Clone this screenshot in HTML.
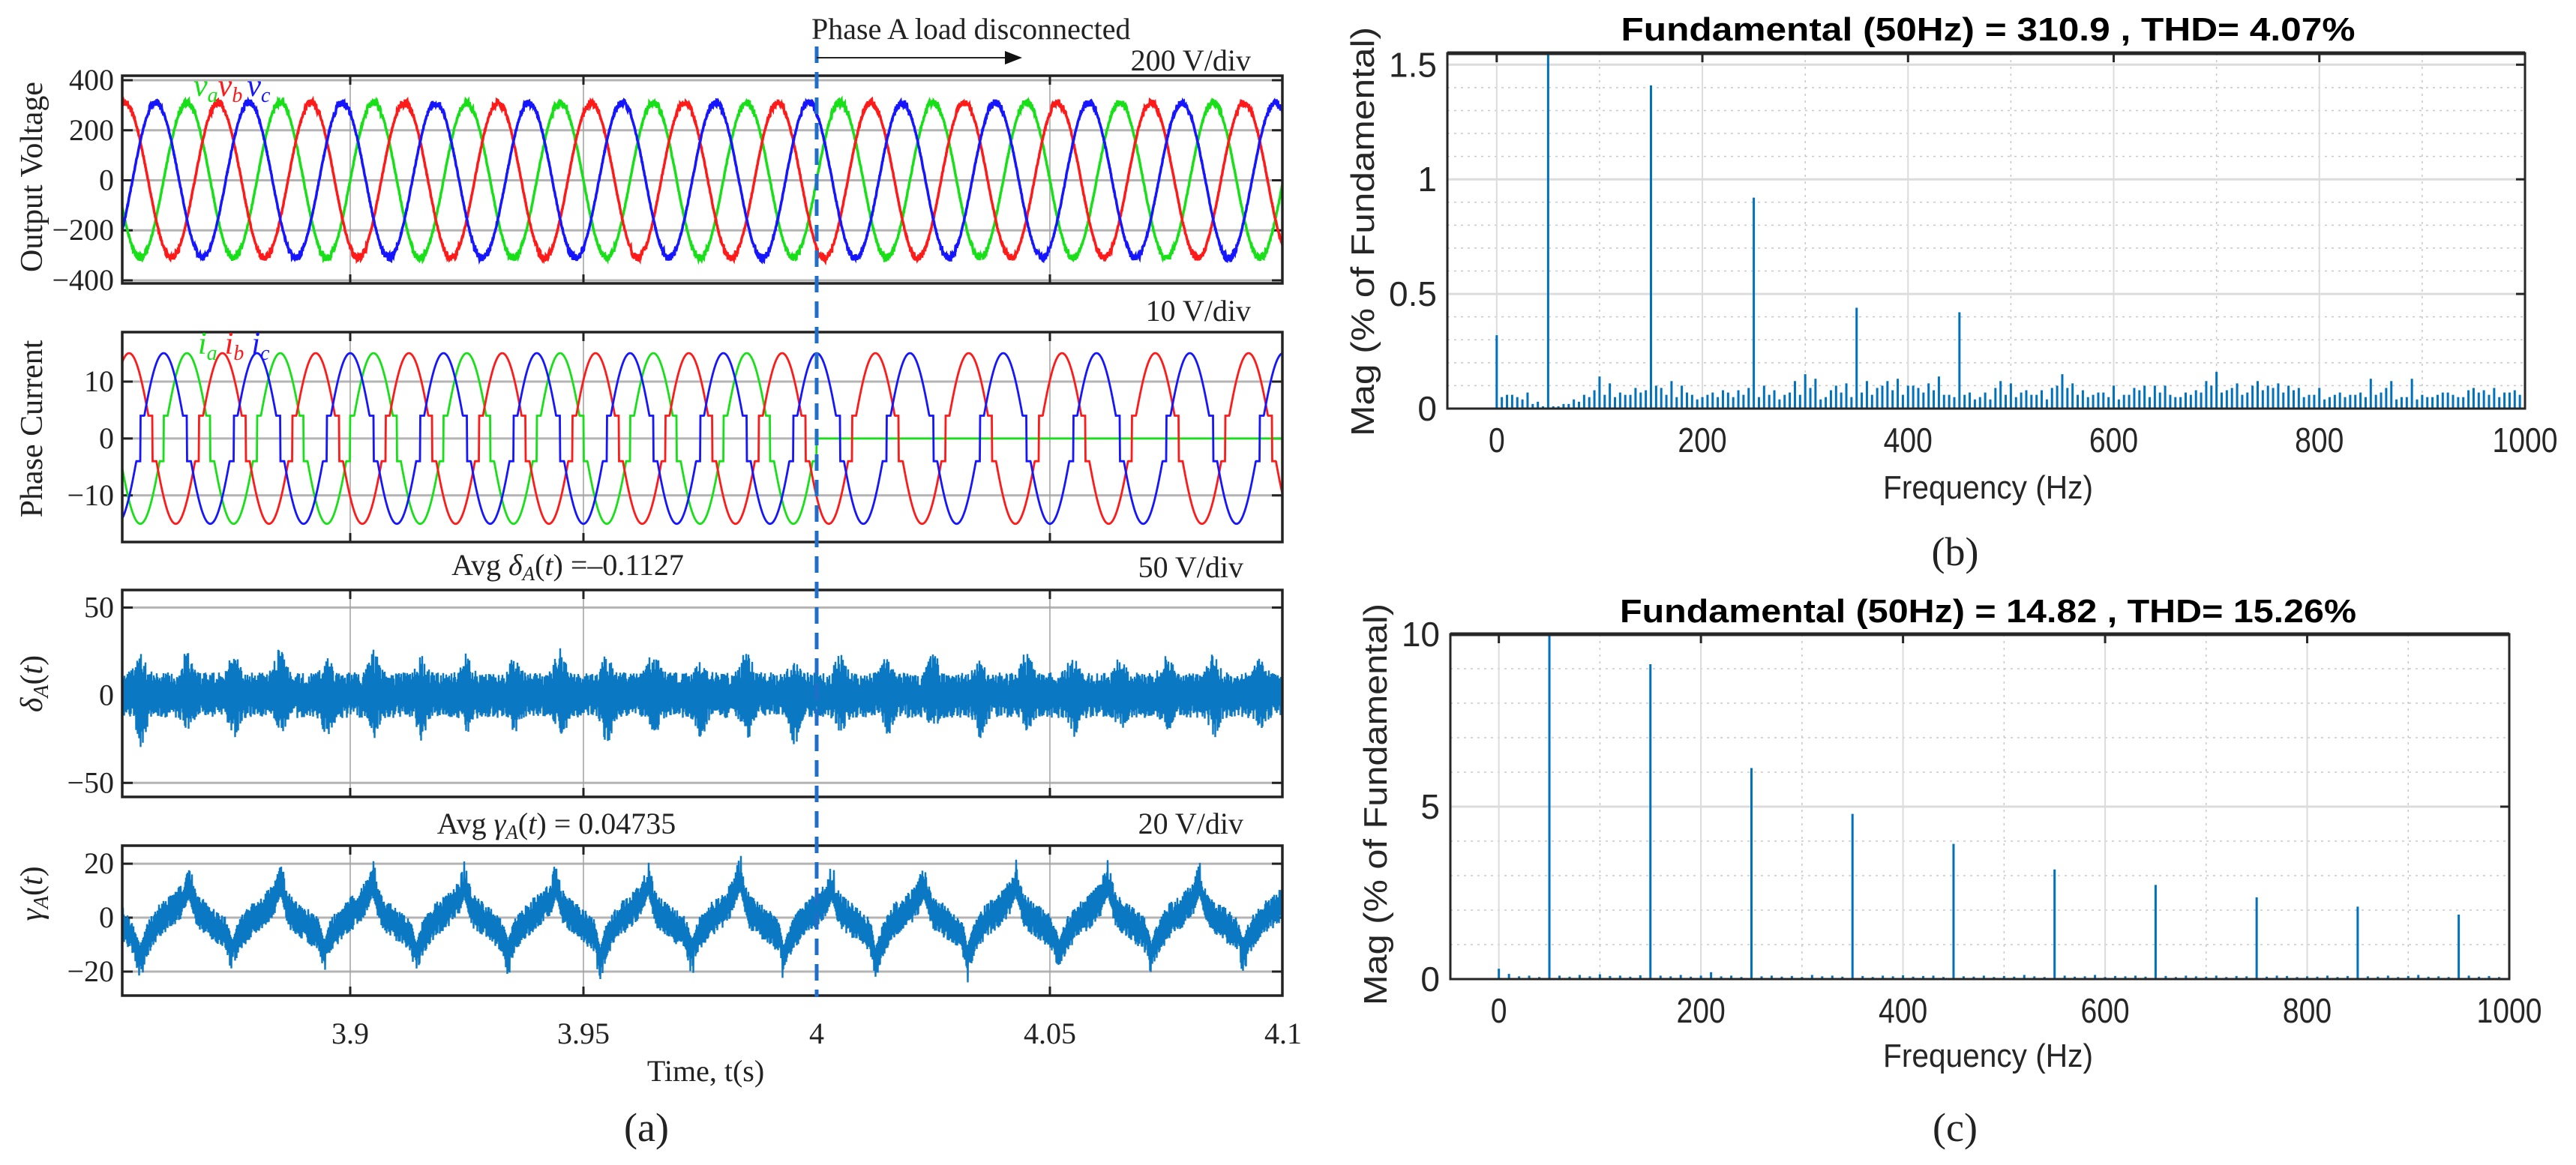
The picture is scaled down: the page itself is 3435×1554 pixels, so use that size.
<!DOCTYPE html>
<html><head><meta charset="utf-8"><style>
html,body{margin:0;padding:0;background:#fff;}
svg{display:block;}
</style></head><body>
<svg id="fig" xmlns="http://www.w3.org/2000/svg" width="3435" height="1554" viewBox="0 0 3435 1554">
<rect x="0" y="0" width="3435" height="1554" fill="#fff"/>
</svg>
<script>
// ---------- data ----------
const timeTicks = [3.9, 3.95, 4, 4.05, 4.1];
const timeTickLabels = ["3.9", "3.95", "4", "4.05", "4.1"];
const vAmp = [310, 310, 310];              // va, vb, vc amplitudes
const vPeakT = [3.985, 3.99167, 3.99833];  // va, vb, vc peak times
const iAmp = [15, 15, 15];
const iPeakT = [3.985, 3.9926, 4.0];
const disconnectT = 4.0;
const deltaSpikeT = [3.855,3.865,3.875,3.885,3.895,3.905,3.915,3.925,3.935,3.945,3.955,3.965,3.975,3.985,3.995,4.005,4.015,4.025,4.035,4.045,4.055,4.065,4.075,4.085,4.095];
const deltaUp = [25,27,25,28,22,27,24,25,22,28,25,27,22,30,20,24,22,25,20,26,24,22,25,24,22];
const deltaDn = [-30,-20,-25,-22,-27,-25,-28,-23,-22,-28,-30,-25,-25,-25,-30,-22,-24,-20,-25,-22,-24,-20,-22,-25,-20];
const gammaPeakT = [3.8654,3.8851,3.9048,3.9245,3.9442,3.9639,3.9836,4.0033,4.023,4.0427,4.0624,4.0821,4.1018];
const gammaPeaks = [17,18,18,17,17,18,20,16,17,18,18,18,17];
const gammaTroughT = [3.855,3.8747,3.8944,3.9141,3.9338,3.9535,3.9732,3.9929,4.0126,4.0323,4.052,4.0717,4.0914];
const gammaTroughs = [-20,-18,-18,-19,-18,-21,-18,-20,-21,-20,-18,-19,-18];
const specB = [0.32,0.06,0.05,0.07,0.03,100,0.01,0.02,0.03,0.05,0.14,0.11,0.07,0.06,0.07,1.41,0.09,0.12,0.1,0.06,0.05,0.07,0.08,0.05,0.06,0.92,0.1,0.08,0.06,0.12,0.15,0.13,0.05,0.1,0.11,0.44,0.12,0.09,0.12,0.13,0.1,0.09,0.11,0.14,0.06,0.42,0.07,0.05,0.04,0.12,0.11,0.07,0.06,0.08,0.09,0.15,0.11,0.08,0.06,0.07,0.1,0.06,0.09,0.1,0.1,0.1,0.05,0.07,0.08,0.12,0.16,0.08,0.11,0.07,0.12,0.1,0.11,0.1,0.09,0.06,0.09,0.05,0.07,0.06,0.07,0.13,0.07,0.12,0.05,0.13,0.06,0.05,0.07,0.06,0.05,0.09,0.08,0.09,0.07,0.08,0.11];
const specBHalf = [0.05,0.06,0.04,0.02,0.01,0.01,0.02,0.04,0.06,0.08,0.06,0.05,0.06,0.09,0.08,0.1,0.06,0.05,0.07,0.04,0.06,0.05,0.07,0.08,0.09,0.05,0.06,0.04,0.07,0.06,0.09,0.04,0.08,0.07,0.05,0.07,0.06,0.1,0.08,0.06,0.1,0.07,0.08,0.06,0.05,0.06,0.04,0.07,0.09,0.06,0.05,0.08,0.06,0.04,0.1,0.09,0.06,0.05,0.07,0.05,0.04,0.06,0.08,0.05,0.07,0.06,0.05,0.06,0.07,0.1,0.07,0.09,0.06,0.1,0.08,0.09,0.07,0.08,0.05,0.06,0.04,0.06,0.05,0.06,0.05,0.06,0.09,0.04,0.05,0.04,0.05,0.06,0.07,0.05,0.08,0.07,0.06,0.05,0.07,0.06];
const specC = [0.3,0.15,0.08,0.1,0.06,100,0.1,0.07,0.12,0.08,0.14,0.09,0.1,0.07,0.11,9.13,0.1,0.08,0.12,0.07,0.1,0.2,0.08,0.1,0.06,6.12,0.08,0.1,0.07,0.09,0.06,0.12,0.08,0.1,0.07,4.79,0.09,0.06,0.1,0.08,0.11,0.07,0.09,0.1,0.06,3.92,0.08,0.07,0.1,0.06,0.09,0.07,0.12,0.08,0.06,3.18,0.1,0.07,0.08,0.12,0.06,0.09,0.08,0.1,0.07,2.73,0.09,0.06,0.1,0.08,0.07,0.1,0.06,0.09,0.08,2.37,0.07,0.1,0.09,0.06,0.08,0.07,0.1,0.06,0.09,2.1,0.08,0.07,0.1,0.06,0.09,0.12,0.07,0.08,0.06,1.87,0.1,0.07,0.09,0.06,0.12];
const specTicks = [0,200,400,600,800,1000];
const bYTicks = [0,0.5,1,1.5];
const cYTicks = [0,5,10];

// ---------- helpers ----------
const NS = "http://www.w3.org/2000/svg";
const svg = document.getElementById('fig');
function mk(tag, attrs, name, parent) {
  const el = document.createElementNS(NS, tag);
  for (const k in attrs) el.setAttribute(k, attrs[k]);
  
  
  (parent || svg).appendChild(el);
  return el;
}
function txt(x, y, s, attrs, name) {
  const el = mk('text', Object.assign({x: x, y: y}, attrs), name);
  el.textContent = s;
  return el;
}
function hash(i) { const v = Math.sin(i * 12.9898 + 78.233) * 43758.5453; return v - Math.floor(v); }

const SERIF = '"Liberation Serif", serif';
const SANS = '"Liberation Sans", Arial, sans-serif';

const TX0 = 163, TX1 = 1710;
function X(t) { return 467 + (t - 3.9) * 6220; }
const T0 = 3.9 + (TX0 - 467) / 6220;

function timePanel(cfg) {
  const Y = v => cfg.y1 - (v - cfg.ymin) / (cfg.ymax - cfg.ymin) * (cfg.y1 - cfg.y0);
  cfg.Y = Y;
  cfg.yticks.forEach(v => {
    mk('line', {x1: TX0, x2: TX1, y1: Y(v), y2: Y(v), stroke: '#b4b4b4', 'stroke-width': 3}, cfg.name + '-hgrid');
    mk('line', {x1: TX0, x2: TX0 + 14, y1: Y(v), y2: Y(v), stroke: '#222', 'stroke-width': 3}, cfg.name + '-ytick');
    mk('line', {x1: TX1 - 14, x2: TX1, y1: Y(v), y2: Y(v), stroke: '#222', 'stroke-width': 3}, cfg.name + '-ytick');
    txt(152, Y(v) + 13, String(v).replace('-', '\u2212'), {'font-family': SERIF, 'font-size': 40, 'text-anchor': 'end', fill: '#222'}, cfg.name + '-ytick-label');
  });
  [3.9, 3.95, 4.05].forEach(t => {
    mk('line', {x1: X(t), x2: X(t), y1: cfg.y0, y2: cfg.y1, stroke: '#a0a0a0', 'stroke-width': 1.5}, cfg.name + '-vgrid');
    mk('line', {x1: X(t), x2: X(t), y1: cfg.y0, y2: cfg.y0 + 12, stroke: '#222', 'stroke-width': 3}, cfg.name + '-xtick');
    mk('line', {x1: X(t), x2: X(t), y1: cfg.y1 - 12, y2: cfg.y1, stroke: '#222', 'stroke-width': 3}, cfg.name + '-xtick');
  });
  const g = mk('g', {}, cfg.name + '-traces');
  const clip = mk('clipPath', {id: 'clip-' + cfg.name}, cfg.name + '-clip');
  mk('rect', {x: TX0, y: cfg.y0, width: TX1 - TX0, height: cfg.y1 - cfg.y0}, cfg.name + '-clip-rect', clip);
  g.setAttribute('clip-path', 'url(#clip-' + cfg.name + ')');
  cfg.g = g;
  const lab = txt(0, 0, '', {'font-family': SERIF, 'font-size': 42, 'text-anchor': 'middle', fill: '#222', transform: 'translate(56,' + cfg.labY + ') rotate(-90)'}, cfg.name + '-y-axis-title');
  lab.innerHTML = cfg.label;
  return cfg;
}
function frame(cfg) {
  mk('rect', {x: TX0, y: cfg.y0, width: TX1 - TX0, height: cfg.y1 - cfg.y0, fill: 'none', stroke: '#222', 'stroke-width': 3.5}, cfg.name + '-frame');
}

// ---------- Voltage ----------
const pV = timePanel({name: 'voltage', y0: 101, y1: 378, ymin: -412, ymax: 418, yticks: [400, 200, 0, -200, -400], labY: 236, label: 'Output Voltage'});
const vColors = ['#18e018', '#ff1a1a', '#1515ff'];
const vNames = ['va', 'vb', 'vc'];
for (let p = 0; p < 3; p++) {
  let d = '';
  for (let i = 0; i <= (TX1 - TX0) * 2; i++) {
    const t = T0 + i / 2 / 6220;
    const c = Math.cos(2 * Math.PI * 50 * (t - vPeakT[p]));
    const v = vAmp[p] * c + (Math.abs(c) > 0.85 ? (hash(i + p * 5000) - 0.5) * 30 : (hash(i + p * 5000) - 0.5) * 8);
    d += (i ? 'L' : 'M') + X(t).toFixed(1) + ' ' + pV.Y(v).toFixed(1);
  }
  mk('path', {d: d, fill: 'none', stroke: vColors[p], 'stroke-width': 3.5}, 'voltage-' + vNames[p] + '-line', pV.g);
}
frame(pV);
(function () {
  const t = txt(258, 128, '', {'font-family': SERIF, 'font-size': 42, 'font-style': 'italic'}, 'voltage-legend');
  t.innerHTML = '<tspan fill="#18e018">v</tspan><tspan fill="#18e018" font-size="28" dy="8">a</tspan><tspan fill="#ff1a1a" dy="-8">v</tspan><tspan fill="#ff1a1a" font-size="28" dy="8">b</tspan><tspan fill="#1515ff" dy="-8" dx="6">v</tspan><tspan fill="#1515ff" font-size="28" dy="8">c</tspan>';
})();

// ---------- Current ----------
const pI = timePanel({name: 'current', y0: 443, y1: 723, ymin: -18.2, ymax: 18.7, yticks: [10, 0, -10], labY: 572, label: 'Phase Current'});
for (let p = 0; p < 3; p++) {
  let d = '';
  for (let i = 0; i <= (TX1 - TX0) * 2; i++) {
    const t = T0 + i / 2 / 6220;
    const c = Math.cos(2 * Math.PI * 50 * (t - iPeakT[p]));
    let v = iAmp[p] * c;
    if (Math.abs(v) < 4) v = 4 * Math.sign(c);
    if (p === 0 && t >= disconnectT) v = 0;
    d += (i ? 'L' : 'M') + X(t).toFixed(1) + ' ' + pI.Y(v).toFixed(1);
  }
  mk('path', {d: d, fill: 'none', stroke: vColors[p], 'stroke-width': 2.8}, 'current-i' + 'abc'[p] + '-line', pI.g);
}
frame(pI);
(function () {
  const t = txt(264, 472, '', {'font-family': SERIF, 'font-size': 42, 'font-style': 'italic'}, 'current-legend');
  t.innerHTML = '<tspan fill="#18e018">i</tspan><tspan fill="#18e018" font-size="28" dy="8">a</tspan><tspan fill="#ff1a1a" dy="-8" dx="10">i</tspan><tspan fill="#ff1a1a" font-size="28" dy="8">b</tspan><tspan fill="#1515ff" dy="-8" dx="10">i</tspan><tspan fill="#1515ff" font-size="28" dy="8">c</tspan>';
})();

// ---------- Delta ----------
const pD = timePanel({name: 'delta', y0: 787, y1: 1063, ymin: -58, ymax: 60, yticks: [50, 0, -50], labY: 912, label: '<tspan font-style="italic">δ</tspan><tspan font-style="italic" font-size="28" dy="8">A</tspan><tspan dy="-8">(</tspan><tspan font-style="italic">t</tspan>)'});
(function () {
  let d = '';
  const n = (TX1 - TX0) * 2;
  for (let i = 0; i <= n; i++) {
    const t = T0 + i / 2 / 6220;
    let up = 13, dn = -13;
    for (let k = 0; k < deltaSpikeT.length; k++) {
      const w = Math.exp(-Math.pow((t - deltaSpikeT[k]) / 0.0014, 2));
      up += (deltaUp[k] - 13) * w;
      const w2 = Math.exp(-Math.pow((t - deltaSpikeT[k] - 0.0002) / 0.0012, 2));
      dn += (deltaDn[k] + 13) * w2;
    }
    const h = 0.4 + 0.6 * hash(i);
    const v = (i % 2 === 0 ? up : dn) * h;
    d += (i ? 'L' : 'M') + X(t).toFixed(1) + ' ' + pD.Y(v).toFixed(1);
  }
  mk('path', {d: d, fill: 'none', stroke: '#0a78c2', 'stroke-width': 2.4}, 'delta-trace', pD.g);
})();
frame(pD);

// ---------- Gamma ----------
const pG = timePanel({name: 'gamma', y0: 1128, y1: 1328, ymin: -28.9, ymax: 26.7, yticks: [20, 0, -20], labY: 1192, label: '<tspan font-style="italic">γ</tspan><tspan font-style="italic" font-size="28" dy="8">A</tspan><tspan dy="-8">(</tspan><tspan font-style="italic">t</tspan>)'});
(function () {
  const kt = [], kv = [];
  for (let k = 0; k < gammaTroughT.length; k++) {
    const tt = gammaTroughT[k], tr = gammaTroughs[k];
    const pk = gammaPeaks[k], pt = gammaPeakT[k];
    kt.push(tt); kv.push(tr + 8);
    kt.push(tt + 0.004); kv.push(-1);
    kt.push(tt + 0.007); kv.push(3);
    kt.push(pt); kv.push(pk - 8);
    kt.push(pt + 0.002); kv.push(2);
    kt.push(pt + 0.005); kv.push(-2);
    kt.push(pt + 0.0085); kv.push(-7);
  }
  function center(t) {
    if (t <= kt[0]) return kv[0] + (t - kt[0]) / 0.0012 * -3;
    for (let j = 0; j < kt.length - 1; j++) if (t >= kt[j] && t <= kt[j + 1]) return kv[j] + (kv[j + 1] - kv[j]) * (t - kt[j]) / (kt[j + 1] - kt[j]);
    return kv[kv.length - 1];
  }
  let d = '';
  const n = (TX1 - TX0) * 2;
  for (let i = 0; i <= n; i++) {
    const t = T0 + i / 2 / 6220;
    let spike = 0;
    for (let k = 0; k < gammaPeakT.length; k++) spike += Math.exp(-Math.pow((t - gammaPeakT[k]) / 0.0008, 2)) * 6;
    for (let k = 0; k < gammaTroughT.length; k++) spike -= Math.exp(-Math.pow((t - gammaTroughT[k]) / 0.0008, 2)) * 6;
    const c = center(t);
    const h = hash(i + 999);
    const v = c + (i % 2 === 0 ? 1 : -1) * (2.5 + 4 * h) + spike * h;
    d += (i ? 'L' : 'M') + X(t).toFixed(1) + ' ' + pG.Y(v).toFixed(1);
  }
  mk('path', {d: d, fill: 'none', stroke: '#0a78c2', 'stroke-width': 2.4}, 'gamma-trace', pG.g);
})();
frame(pG);

timeTicks.forEach((t, i) => {
  txt(X(t), 1392, timeTickLabels[i], {'font-family': SERIF, 'font-size': 40, 'text-anchor': 'middle', fill: '#222'}, 'time-tick-label');
});
txt(941, 1442, 'Time, t(s)', {'font-family': SERIF, 'font-size': 40, 'text-anchor': 'middle', fill: '#222'}, 'time-axis-title');

txt(1668, 94, '200 V/div', {'font-family': SERIF, 'font-size': 40, 'text-anchor': 'end', fill: '#222'}, 'voltage-scale-label');
txt(1668, 428, '10 V/div', {'font-family': SERIF, 'font-size': 40, 'text-anchor': 'end', fill: '#222'}, 'current-scale-label');
txt(1658, 770, '50 V/div', {'font-family': SERIF, 'font-size': 40, 'text-anchor': 'end', fill: '#222'}, 'delta-scale-label');
txt(1658, 1112, '20 V/div', {'font-family': SERIF, 'font-size': 40, 'text-anchor': 'end', fill: '#222'}, 'gamma-scale-label');
(function () {
  const a = txt(757, 767, '', {'font-family': SERIF, 'font-size': 40, 'text-anchor': 'middle', fill: '#222'}, 'delta-average-label');
  a.innerHTML = 'Avg <tspan font-style="italic">δ</tspan><tspan font-style="italic" font-size="27" dy="7">A</tspan><tspan dy="-7">(</tspan><tspan font-style="italic">t</tspan>) =\u20130.1127';
  const b = txt(742, 1112, '', {'font-family': SERIF, 'font-size': 40, 'text-anchor': 'middle', fill: '#222'}, 'gamma-average-label');
  b.innerHTML = 'Avg <tspan font-style="italic">γ</tspan><tspan font-style="italic" font-size="27" dy="7">A</tspan><tspan dy="-7">(</tspan><tspan font-style="italic">t</tspan>) = 0.04735';
})();

mk('line', {x1: X(disconnectT), x2: X(disconnectT), y1: 62, y2: 1330, stroke: '#1f6fc8', 'stroke-width': 5, 'stroke-dasharray': '22 12'}, 'disconnect-marker-line');
txt(1082, 52, 'Phase A load disconnected', {'font-family': SERIF, 'font-size': 40, fill: '#222'}, 'disconnect-annotation');
mk('line', {x1: X(disconnectT), x2: 1345, y1: 77, y2: 77, stroke: '#222', 'stroke-width': 2}, 'disconnect-arrow-shaft');
mk('path', {d: 'M1340 68 L1363 77 L1340 86 Z', fill: '#111'}, 'disconnect-arrow-head');

txt(862, 1522, '(a)', {'font-family': SERIF, 'font-size': 54, 'text-anchor': 'middle', fill: '#222'}, 'panel-a-label');

// ---------- Spectra ----------
function spectrum(cfg) {
  const fmin = -48, fmax = 1000;
  const FX = f => cfg.x0 + (f - fmin) / (fmax - fmin) * (cfg.x1 - cfg.x0);
  const FY = v => cfg.y1 - Math.min(v, cfg.ymax) / cfg.ymax * (cfg.y1 - cfg.y0);
  for (let f = 100; f <= 1000; f += 200) mk('line', {x1: FX(f), x2: FX(f), y1: cfg.y0, y2: cfg.y1, stroke: '#c8c8c8', 'stroke-width': 1.5, 'stroke-dasharray': '3 6'}, cfg.name + '-minor-vgrid');
  for (let v = cfg.minor; v < cfg.ymax - 1e-9; v += cfg.minor) mk('line', {x1: cfg.x0, x2: cfg.x1, y1: FY(v), y2: FY(v), stroke: '#c8c8c8', 'stroke-width': 1.5, 'stroke-dasharray': '3 6'}, cfg.name + '-minor-hgrid');
  specTicks.forEach(f => mk('line', {x1: FX(f), x2: FX(f), y1: cfg.y0, y2: cfg.y1, stroke: '#dcdcdc', 'stroke-width': 2}, cfg.name + '-vgrid'));
  cfg.yticks.forEach(v => mk('line', {x1: cfg.x0, x2: cfg.x1, y1: FY(v), y2: FY(v), stroke: '#dcdcdc', 'stroke-width': 3}, cfg.name + '-hgrid'));
  cfg.vals.forEach((v, i) => {
    mk('line', {x1: FX(i * 10), x2: FX(i * 10), y1: cfg.y1, y2: FY(v), stroke: '#0072BD', 'stroke-width': 3}, cfg.name + '-bar');
  });
  if (cfg.half) cfg.half.forEach((v, i) => {
    mk('line', {x1: FX(i * 10 + 5), x2: FX(i * 10 + 5), y1: cfg.y1, y2: FY(v), stroke: '#0072BD', 'stroke-width': 3}, cfg.name + '-bar');
  });
  mk('rect', {x: cfg.x0, y: cfg.y0, width: cfg.x1 - cfg.x0, height: cfg.y1 - cfg.y0, fill: 'none', stroke: '#262626', 'stroke-width': 3}, cfg.name + '-frame');
  mk('line', {x1: cfg.x0, x2: cfg.x1, y1: cfg.y0, y2: cfg.y0, stroke: '#262626', 'stroke-width': 5}, cfg.name + '-top-border');
  cfg.yticks.forEach(v => {
    mk('line', {x1: cfg.x1 - 12, x2: cfg.x1, y1: FY(v), y2: FY(v), stroke: '#262626', 'stroke-width': 3}, cfg.name + '-ytick');
    txt(cfg.x0 - 14, FY(v) + 16, String(v), {'font-family': SANS, 'font-size': 46, 'text-anchor': 'end', fill: '#262626'}, cfg.name + '-ytick-label');
  });
  specTicks.forEach(f => {
    mk('line', {x1: FX(f), x2: FX(f), y1: cfg.y0, y2: cfg.y0 + 12, stroke: '#262626', 'stroke-width': 3}, cfg.name + '-xtick');
    txt(FX(f), cfg.tickY, String(f), {'font-family': SANS, 'font-size': 46, 'text-anchor': 'middle', fill: '#262626', transform: 'translate(' + FX(f) + ' 0) scale(0.85 1) translate(' + (-FX(f)) + ' 0)'}, cfg.name + '-xtick-label');
  });
  txt(2651, cfg.titleY, cfg.title, {'font-family': SANS, 'font-size': 44, 'font-weight': 'bold', 'text-anchor': 'middle', fill: '#000', textLength: cfg.titleW, lengthAdjust: 'spacingAndGlyphs'}, cfg.name + '-title');
  txt(2651, cfg.xlabY, 'Frequency (Hz)', {'font-family': SANS, 'font-size': 44, 'text-anchor': 'middle', fill: '#262626', textLength: 280, lengthAdjust: 'spacingAndGlyphs'}, cfg.name + '-x-axis-title');
  txt(0, 0, 'Mag (% of Fundamental)', {'font-family': SANS, 'font-size': 44, 'text-anchor': 'middle', fill: '#262626', textLength: cfg.ylabLen, lengthAdjust: 'spacingAndGlyphs', transform: 'translate(' + cfg.ylabX + ',' + cfg.ylabY + ') rotate(-90)'}, cfg.name + '-y-axis-title');
  txt(2607, cfg.panelY, cfg.panel, {'font-family': SERIF, 'font-size': 54, 'text-anchor': 'middle', fill: '#222'}, cfg.name + '-panel-label');
}
spectrum({name: 'spectrum-b', x0: 1930, x1: 3367, y0: 71, y1: 545, ymax: 1.55, minor: 0.1, yticks: bYTicks, vals: specB, half: specBHalf,
  tickY: 603, xlabY: 665, title: 'Fundamental (50Hz) = 310.9 , THD= 4.07%', titleY: 54, titleW: 979, ylabX: 1832, ylabY: 309, ylabLen: 546, panel: '(b)', panelY: 754});
spectrum({name: 'spectrum-c', x0: 1934, x1: 3346, y0: 846, y1: 1306, ymax: 10, minor: 1, yticks: cYTicks, vals: specC, half: null,
  tickY: 1364, xlabY: 1423, title: 'Fundamental (50Hz) = 14.82 , THD= 15.26%', titleY: 830, titleW: 982, ylabX: 1849, ylabY: 1073, ylabLen: 536, panel: '(c)', panelY: 1522});
</script>
</body></html>
